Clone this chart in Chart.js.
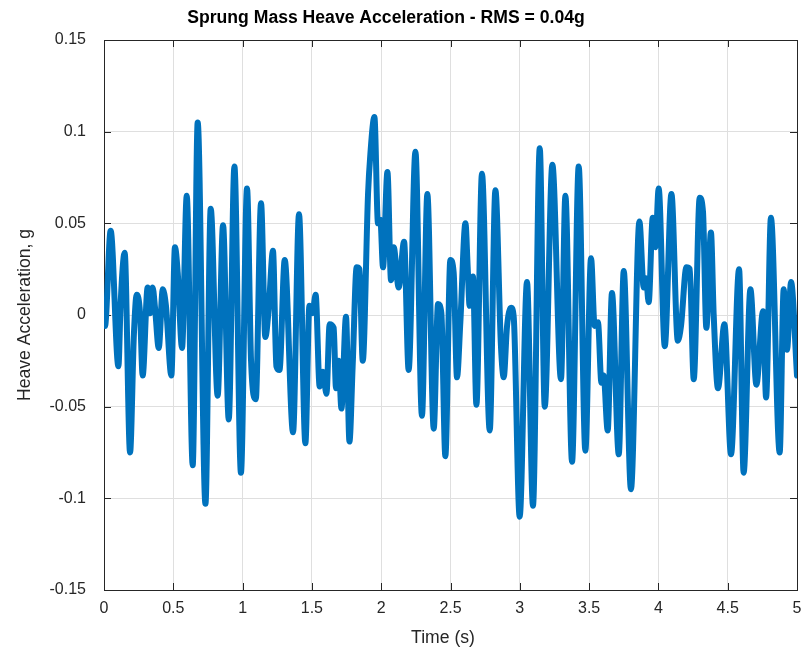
<!DOCTYPE html>
<html>
<head>
<meta charset="utf-8">
<script src="https://cdn.jsdelivr.net/npm/chart.js@4/dist/chart.umd.min.js"></script>
<style>
  html, body { margin: 0; padding: 0; background: #ffffff; }
  #plot { display: block; }
</style>
</head>
<body>
<canvas id="plot" width="803" height="651"></canvas>
<script>
// Time samples (s) at its turning points
const times = [
  0.000, 0.007, 0.048, 0.104, 0.120, 0.149, 0.188, 0.216, 0.236, 0.260,
  0.279, 0.315, 0.332, 0.351, 0.368, 0.395, 0.424, 0.447, 0.486, 0.512,
  0.532, 0.563, 0.597, 0.640, 0.676, 0.732, 0.770, 0.820, 0.859, 0.900,
  0.941, 0.988, 1.032, 1.061, 1.095, 1.133, 1.164, 1.188, 1.219, 1.244,
  1.266, 1.304, 1.364, 1.407, 1.453, 1.482, 1.504, 1.527, 1.556, 1.580,
  1.605, 1.628, 1.657, 1.674, 1.693, 1.713, 1.746, 1.771, 1.794, 1.823,
  1.843, 1.867, 1.905, 1.922, 1.951, 1.977, 1.994, 2.013, 2.045, 2.071,
  2.090, 2.126, 2.165, 2.198, 2.247, 2.294, 2.333, 2.379, 2.410, 2.434,
  2.463, 2.499, 2.523, 2.547, 2.571, 2.608, 2.624, 2.638, 2.662, 2.687,
  2.727, 2.783, 2.824, 2.864, 2.884, 2.908, 2.937, 2.956, 2.999, 3.052,
  3.095, 3.144, 3.180, 3.235, 3.297, 3.329, 3.377, 3.425, 3.473, 3.514,
  3.540, 3.564, 3.589, 3.605, 3.634, 3.665, 3.714, 3.750, 3.802, 3.863,
  3.894, 3.911, 3.930, 3.959, 3.978, 4.002, 4.046, 4.094, 4.140, 4.163,
  4.202, 4.226, 4.255, 4.298, 4.322, 4.346, 4.379, 4.399, 4.430, 4.476,
  4.524, 4.582, 4.615, 4.664, 4.707, 4.755, 4.777, 4.812, 4.875, 4.904,
  4.928, 4.957, 5.000
];

// Heave acceleration (g) at those samples
const accel = [
  0.000, -0.006, 0.046, -0.028, 0.006, 0.034, -0.075, -0.010, 0.011, 0.001,
  -0.033, 0.015, 0.001, 0.015, 0.004, -0.018, 0.014, 0.005, -0.033, 0.037,
  0.023, -0.018, 0.065, -0.082, 0.105, -0.103, 0.058, -0.044, 0.049, -0.057,
  0.081, -0.086, 0.069, -0.025, -0.046, 0.061, -0.012, 0.003, 0.035, -0.028,
  -0.030, 0.030, -0.064, 0.055, -0.070, 0.005, 0.001, 0.011, -0.039, -0.031,
  -0.043, -0.005, -0.007, -0.040, -0.025, -0.051, -0.001, -0.069, -0.028, 0.026,
  0.025, -0.025, 0.066, 0.088, 0.108, 0.050, 0.052, 0.026, 0.078, 0.019,
  0.037, 0.015, 0.040, -0.030, 0.089, -0.055, 0.066, -0.062, 0.006, 0.001,
  -0.077, 0.030, 0.023, -0.034, -0.004, 0.050, 0.026, 0.005, 0.021, -0.049,
  0.077, -0.063, 0.068, -0.017, -0.034, -0.006, 0.004, -0.001, -0.110, 0.018,
  -0.104, 0.091, -0.050, 0.082, -0.035, 0.065, -0.080, 0.081, -0.074, 0.031,
  -0.006, -0.004, -0.037, -0.033, -0.063, 0.012, -0.076, 0.024, -0.095, 0.051,
  0.015, 0.020, 0.007, 0.053, 0.037, 0.069, -0.017, 0.066, -0.014, -0.006,
  0.026, 0.025, -0.035, 0.064, 0.056, -0.007, 0.045, 0.000, -0.040, -0.005,
  -0.076, 0.025, -0.086, 0.014, -0.038, 0.002, -0.045, 0.053, -0.075, 0.014,
  -0.019, 0.018, -0.033
];

// Axis limits and labels
const xRange = [0, 5];
const yRange = [-0.15, 0.15];
const xStep = 0.5;
const yStep = 0.05;
const chartTitle = "Sprung Mass Heave Acceleration - RMS = 0.04g";
const xLabel = "Time (s)";
const yLabel = "Heave Acceleration, g";

const axisColor = "#262626";
const fontFamily = "'Liberation Sans', Arial, Helvetica, sans-serif";

// Box around the axes with inward ticks, like the MATLAB default
const boxPlugin = {
  id: "box",
  beforeDatasetsDraw(chart) {
    const ctx = chart.ctx;
    const a = chart.chartArea;
    const xs = chart.scales.x;
    const ys = chart.scales.y;
    const len = 7;
    ctx.save();
    ctx.strokeStyle = axisColor;
    ctx.lineWidth = 1;
    ctx.beginPath();
    xs.ticks.forEach(t => {
      const px = Math.round(xs.getPixelForValue(t.value)) + 0.5;
      ctx.moveTo(px, a.bottom); ctx.lineTo(px, a.bottom - len);
      ctx.moveTo(px, a.top); ctx.lineTo(px, a.top + len);
    });
    ys.ticks.forEach(t => {
      const py = Math.round(ys.getPixelForValue(t.value)) + 0.5;
      ctx.moveTo(a.left, py); ctx.lineTo(a.left + len, py);
      ctx.moveTo(a.right, py); ctx.lineTo(a.right - len, py);
    });
    ctx.stroke();
    ctx.strokeRect(Math.round(a.left) + 0.5, Math.round(a.top) + 0.5,
      Math.round(a.right - a.left), Math.round(a.bottom - a.top));
    ctx.restore();
  },
  afterDraw(chart) {
    const ctx = chart.ctx;
    ctx.save();
    ctx.fillStyle = "#000000";
    ctx.font = "bold 17.6px " + fontFamily;
    ctx.textAlign = "center";
    ctx.textBaseline = "alphabetic";
    ctx.fillText(chartTitle, 386, 23);

    ctx.fillStyle = axisColor;
    ctx.font = "17.6px " + fontFamily;
    ctx.fillText(xLabel, 443, 643);

    ctx.translate(30, 315);
    ctx.rotate(-Math.PI / 2);
    ctx.fillText(yLabel, 0, 0);
    ctx.restore();
  }
};

const ctx = document.getElementById("plot").getContext("2d");

new Chart(ctx, {
  type: "line",
  data: {
    datasets: [{
      data: times.map((t, i) => ({ x: t, y: accel[i] })),
      borderColor: "#0072BD",
      borderWidth: 6,
      pointRadius: 0,
      fill: false,
      cubicInterpolationMode: "monotone",
      borderCapStyle: "round",
      borderJoinStyle: "round"
    }]
  },
  options: {
    responsive: false,
    animation: false,
    devicePixelRatio: 1,
    layout: { padding: { top: 40, right: 6, left: 0, bottom: 0 } },
    plugins: {
      legend: { display: false },
      tooltip: { enabled: false },
      title: { display: false }
    },
    scales: {
      x: {
        type: "linear",
        min: xRange[0],
        max: xRange[1],
        afterFit: s => { s.height = 61; s.paddingLeft = 0; s.paddingRight = 0; },
        ticks: {
          stepSize: xStep,
          autoSkip: false,
          maxRotation: 0,
          padding: 9,
          color: axisColor,
          font: { family: fontFamily, size: 16 },
          callback: v => Number(v.toFixed(2)).toString()
        },
        grid: { color: "#dfdfdf", lineWidth: 1, drawTicks: false },
        border: { color: axisColor, width: 1 }
      },
      y: {
        type: "linear",
        min: yRange[0],
        max: yRange[1],
        afterFit: s => { s.width = 104; s.paddingTop = 0; s.paddingBottom = 0; },
        ticks: {
          stepSize: yStep,
          autoSkip: false,
          padding: 18,
          color: axisColor,
          font: { family: fontFamily, size: 16 },
          callback: v => Number(v.toFixed(2)).toString()
        },
        grid: { color: "#dfdfdf", lineWidth: 1, drawTicks: false },
        border: { color: axisColor, width: 1 }
      }
    }
  },
  plugins: [boxPlugin]
});
</script>
</body>
</html>
